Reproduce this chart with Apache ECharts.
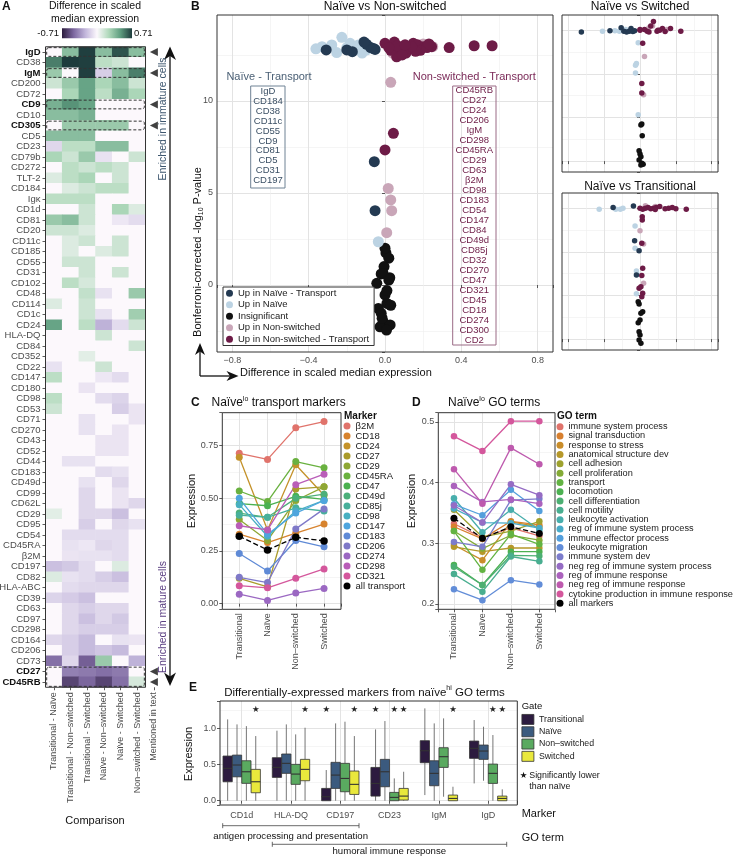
<!DOCTYPE html>
<html><head><meta charset="utf-8">
<script src="https://cdn.jsdelivr.net/npm/echarts@6/dist/echarts.min.js"></script>
<style>html,body{margin:0;padding:0;background:#fff}#c{width:738px;height:858px}</style>
</head><body><div id="c"></div>
<script>
// ---------- Panel A data ----------
const heatCols = ['Transitional - Naïve','Transitional - Non–switched','Transitional - Switched','Naïve - Non–switched','Naïve - Switched','Non–switched - Switched','Mentioned in text'];
const heatRows = ['IgD','CD38','IgM','CD200','CD72','CD9','CD10','CD305','CD5','CD23','CD79b','CD272','TLT-2','CD184','Igκ','CD1d','CD81','CD20','CD11c','CD185','CD55','CD31','CD102','CD48','CD114','CD1c','CD24','HLA-DQ','CD84','CD352','CD22','CD147','CD180','CD98','CD53','CD71','CD270','CD43','CD52','CD44','CD183','CD49d','CD99','CD62L','CD29','CD95','CD54','CD45RA','β2M','CD197','CD82','HLA-ABC','CD39','CD63','CD97','CD298','CD164','CD206','CD73','CD27','CD45RB'];
const heatValues = [
[0,0.35,0.7,0.35,0.65,0.35],[0.55,0.71,0.7,0.2,0.15,0],[0.3,0,0.7,-0.15,0.35,0.55],[0.15,0.3,0.45,0.25,0.35,0.15],
[0,0.25,0.45,0.2,0.4,0.25],[0.4,0.5,0.45,0,0,0],[0.35,0.35,0.4,0,0,0],[0,0.3,0.3,0.3,0.3,0],
[0.35,0.35,0.35,0,0,0],[-0.12,0.2,0.2,0.35,0.35,0],[0.25,0.15,0.3,-0.08,0,0.15],[0,0.2,0.15,0.2,0.15,0],
[0.1,0.2,0.25,0,0.15,0],[0,0.1,0.15,0.2,0.2,0],[0.2,0.2,0.2,0,0,0],[0,0,0.15,0,0.25,0.1],
[0.3,0.35,0.15,0,-0.06,-0.1],[0.15,0.15,0.1,0,0,0],[0,0.1,0.15,0,0.15,0],[0,0.1,0,0.1,0.15,0],
[0,0.15,0.15,0,0,0],[0,0,0.15,0,0.15,0],[0,0.2,0.12,0,0,0],[0,0,0.18,-0.08,0,0.3],
[0.1,0,0.15,0,0,0],[0,0,0.15,-0.08,0,0.28],[0.45,0,0.2,-0.25,-0.1,0.15],[0,0,0,0.15,0,0],
[0,0,0,0,0,0.15],[0,0,0.08,0,0,0],[-0.08,0,0,0.15,0,0],[0.2,0,0,-0.06,-0.1,0],
[0,0,-0.07,0,0,0],[0.2,0,0,-0.1,-0.13,0],[0.15,0,0,0,-0.15,-0.07],[0,0,-0.08,0,0,-0.07],
[0,0,-0.08,0,-0.07,0],[0,0,0,-0.07,-0.07,0],[0,0,0,-0.07,-0.07,0],[0,-0.08,-0.08,0,0,0],
[0,0,0,-0.1,-0.08,0],[0,0,-0.08,0,-0.12,0],[0,0,-0.12,0,-0.07,0],[0,0,-0.12,0,-0.07,-0.12],
[0.08,0,-0.12,-0.12,-0.2,0],[0,0,-0.15,0,-0.12,-0.08],[0,-0.1,-0.1,-0.1,-0.1,0],[0,-0.08,-0.06,-0.12,-0.1,0],
[0,-0.07,-0.08,-0.08,-0.1,0],[-0.2,-0.17,-0.1,0,0.1,0],[0.1,-0.08,-0.1,-0.15,-0.2,0],[0,-0.1,-0.12,-0.12,-0.12,0],
[-0.13,-0.16,-0.2,0,0,0],[0,-0.12,-0.15,-0.12,-0.12,0],[0,-0.12,-0.2,-0.12,-0.17,0],[0,-0.12,-0.15,-0.15,-0.15,0],
[-0.12,-0.15,-0.22,0,-0.08,-0.07],[0,-0.15,-0.22,-0.18,-0.22,0],[-0.45,-0.12,-0.5,0.3,0,-0.25],[0,-0.4,-0.42,-0.45,-0.42,0],
[0,-0.58,-0.48,-0.58,-0.45,0.12]
];
const mentioned = ['IgD','IgM','CD9','CD305','CD27','CD45RB'];
const heatLimit = 0.71;

// ---------- Panel B data ----------
const bNames = ['Up in Naïve - Transport','Up in Naïve','Insignificant','Up in Non-switched','Up in Non-switched - Transport'];
const nsInsig = [[0.005,1.74],[0.02,1.46],[-0.005,1.0],[-0.02,0.6],[0.025,0.4],[-0.01,0.63],[0.02,0.27],[-0.043,0.09],[0.0,-0.54],[0.01,-1.0],[-0.035,-1.27],[0.03,-1.1],[-0.02,-1.54],[-0.01,-2.0],[0.027,-2.17],[-0.026,-2.27],[0.008,-2.45],[0.0,2.0],[0.01,-0.3],[-0.015,-1.8]];
const nsUpNaive = [[-0.362,12.83],[-0.33,12.95],[-0.279,13.04],[-0.253,12.63],[-0.226,13.46],[-0.183,13.13],[-0.14,13.04],[-0.096,12.77],[-0.2,12.9],[-0.12,12.6],[-0.035,2.35]];
const nsNaiveTransport = [[-0.308,12.77],[-0.2,12.77],[-0.171,12.68],[-0.096,13.08],[-0.052,12.8],[-0.075,12.9],[-0.11,13.2],[-0.06,12.85],[-0.056,6.7],[-0.052,4.04]];
const nsUpNS = [[0.03,11.01],[0.017,5.25],[0.03,4.62],[0.035,4.04],[0.009,2.84],[0.08,12.8],[0.13,12.95],[0.2,13.1],[0.25,12.95],[0.04,12.6]];
const nsNSTransport = [[0.0,13.13],[0.049,13.2],[0.061,12.4],[0.096,12.77],[0.148,13.13],[0.2,12.95],[0.244,12.95],[0.336,12.9],[0.467,13.0],[0.561,13.0],[0.044,8.24],[0.0,7.34],[0.03,12.75],[0.075,12.9],[0.11,12.6],[0.125,12.85],[0.17,13.05],[0.185,12.75],[0.22,12.9],[0.16,12.7],[0.065,13.0],[0.14,12.95],[0.09,12.5],[0.02,12.9],[0.105,13.05],[0.23,13.1]];

const swInsig = [[0.01,4.14],[0.02,4.25],[0.025,2.91],[-0.01,1.19],[0.0,0.81],[0.01,0.5],[-0.01,0.13],[0.02,-0.25],[0.035,-0.37],[0.01,-0.45]];
const swUpNaive = [[-0.418,14.9],[-0.28,14.95],[-0.23,14.9],[-0.16,15.1],[-0.13,14.85],[-0.02,13.57],[-0.05,11.0],[-0.04,11.2],[-0.05,10.1],[-0.02,5.3]];
const swNaiveTransport = [[-0.654,14.8],[-0.335,14.95],[-0.21,15.3],[-0.18,14.9],[-0.15,14.8],[-0.12,14.9],[-0.1,15.2],[-0.08,14.85],[-0.06,14.95]];
const swUpNS = [[0.1,15.3],[0.14,15.5],[0.3,15.1],[0.04,7.6],[0.05,12.0]];
const swNSTransport = [[0.0,15.0],[0.05,15.1],[0.08,14.9],[0.12,15.5],[0.15,16.0],[0.19,14.9],[0.2,15.0],[0.25,15.2],[0.28,14.85],[0.34,15.2],[0.455,14.9],[0.03,13.5],[0.02,8.9],[0.02,7.8],[0.0,15.1],[0.1,14.8],[0.22,15.0]];

const trInsig = [[-0.02,4.29],[-0.01,4.02],[0.03,3.14],[0.01,2.95],[0.0,2.19],[-0.02,1.88],[-0.01,0.85],[0.0,0.47],[-0.01,-0.1],[0.01,-0.48]];
const trUpNaive = [[-0.455,14.88],[-0.27,14.9],[-0.22,14.9],[-0.19,15.0],[-0.055,12.97],[-0.055,10.41],[-0.04,7.8],[-0.03,7.4],[-0.04,5.2]];
const trNaiveTransport = [[-0.3,15.1],[-0.073,15.26],[-0.06,11.28],[-0.01,10.14],[-0.04,7.35]];
const trUpNS = [[0.06,15.3],[0.17,15.2],[0.0,12.43],[0.04,10.9],[0.04,6.4]];
const trNSTransport = [[0.0,15.0],[0.03,14.9],[0.06,15.0],[0.09,15.1],[0.12,14.95],[0.15,15.0],[0.18,15.1],[0.22,15.2],[0.17,14.85],[0.28,14.95],[0.32,15.0],[0.36,15.1],[0.4,14.95],[0.516,14.88],[0.025,14.03],[0.025,13.66],[0.02,10.98],[0.03,8.12],[0.02,7.3],[0.01,6.0],[-0.01,5.82],[0.03,5.25],[0.02,4.86]];

const naiveTransportList = ['IgD','CD184','CD38','CD11c','CD55','CD9','CD81','CD5','CD31','CD197'];
const nsTransportList = ['CD45RB','CD27','CD24','CD206','IgM','CD298','CD45RA','CD29','CD63','β2M','CD98','CD183','CD54','CD147','CD84','CD49d','CD85j','CD32','CD270','CD47','CD321','CD45','CD18','CD274','CD300','CD2'];

// ---------- Panel C data ----------
const stages = ['Transitional','Naïve','Non–switched','Switched'];
const transportMarkers = ['β2M','CD18','CD24','CD27','CD29','CD45RA','CD47','CD49d','CD85j','CD98','CD147','CD183','CD206','CD274','CD298','CD321'];
const transportValues = [
[0.714,0.685,0.835,0.865],[0.330,0.290,0.335,0.378],[0.695,0.350,0.660,0.515],[0.120,0.080,0.545,0.555],
[0.400,0.300,0.490,0.555],[0.535,0.485,0.675,0.645],[0.475,0.465,0.510,0.495],[0.430,0.410,0.500,0.520],
[0.420,0.410,0.455,0.440],[0.470,0.320,0.440,0.490],[0.500,0.330,0.430,0.490],[0.238,0.155,0.300,0.270],
[0.125,0.100,0.355,0.450],[0.045,0.015,0.050,0.072],[0.370,0.350,0.565,0.615],[0.085,0.075,0.120,0.165]
];
const allTransport = [0.320,0.255,0.315,0.298];

// ---------- Panel D data ----------
const goTerms = ['immune system process','signal transduction','response to stress','anatomical structure dev','cell adhesion','cell proliferation','transport','locomotion','cell differentiation','cell motility','leukocyte activation','reg of immune system process','immune effector process','leukocyte migration','immune system dev','neg reg of immune system process','reg of immune response','neg reg of immune response','cytokine production in immune response'];
const goValues = [
[0.332,0.309,0.325,0.312],[0.327,0.307,0.336,0.330],[0.297,0.272,0.335,0.327],[0.294,0.286,0.292,0.292],
[0.355,0.310,0.320,0.336],[0.320,0.291,0.313,0.305],[0.320,0.256,0.315,0.298],[0.264,0.231,0.286,0.286],
[0.261,0.231,0.280,0.279],[0.249,0.220,0.278,0.270],[0.374,0.318,0.355,0.322],[0.357,0.334,0.333,0.325],
[0.364,0.346,0.388,0.353],[0.224,0.206,0.239,0.232],[0.302,0.294,0.371,0.373],[0.362,0.334,0.397,0.379],
[0.394,0.368,0.372,0.365],[0.422,0.365,0.457,0.430],[0.476,0.452,0.501,0.501]
];
const allMarkers = [0.341,0.308,0.327,0.316];

// ---------- Panel E data ----------
const eMarkers = ['CD1d','HLA-DQ','CD197','CD23','IgM','IgD'];
const gates = ['Transitional','Naïve','Non–switched','Switched'];
// [min, Q1, median, Q3, max]
const boxTransitional = [[0,0.262,0.447,0.617,1.123],[0,0.322,0.46,0.594,0.967],[0,0,0.055,0.17,0.424],[0,0.064,0.239,0.46,0.985],[0.078,0.525,0.69,0.829,1.275],[0.239,0.585,0.723,0.824,1.114]];
const boxNaive = [[0,0.33,0.493,0.63,1.054],[0,0.378,0.516,0.645,1.054],[0,0.17,0.354,0.53,1.068],[0,0.193,0.40,0.571,1.10],[0,0.207,0.378,0.552,1.068],[0.276,0.571,0.686,0.769,1.022]];
const boxNonSwitched = [[0,0.24,0.40,0.552,1.03],[0,0.226,0.368,0.502,0.916],[0,0.124,0.308,0.516,1.091],[0,0,0.046,0.115,0.308],[0.055,0.46,0.608,0.732,1.137],[0,0.239,0.378,0.506,0.907]];
const boxSwitched = [[0,0.11,0.262,0.433,0.893],[0,0.276,0.433,0.571,1.008],[0,0.087,0.226,0.41,0.893],[0,0.009,0.064,0.17,0.40],[0,0,0.032,0.078,0.193],[0,0,0.032,0.064,0.157]];
const sigTransitional = [0,0,1,1,0,0];
const sigNaive = [0,0,0,0,0,0];
const sigNonSwitched = [0,0,0,1,0,1];
const sigSwitched = [1,1,1,1,1,1];
const starLevel = 1.25;

// ---------- styles / layout ----------
const FONT = '"Liberation Sans", Arial, Helvetica, sans-serif';
const heatColors = ['#2b1b3d','#7d68a0','#c2b6db','#fcf8fc','#b0d9bb','#5f9e80','#1d3b3c'];
const bColors = ['#243a52','#bcd3e3','#111111','#c9a6b8','#6d1b46'];
const cColors = ['#e0736b','#d7832e','#c4922a','#aa9b2b','#8ea734','#69b13f','#4bb150','#4cb07a','#48b09b','#48b0c1','#4ea5de','#5f8ad6','#7f79c8','#9b68c2','#b95db8','#d4579c'];
const dColors = ['#e0736b','#d8802f','#c98d2a','#b6982a','#9ea22e','#84ab36','#62b342','#4cb151','#4caf72','#49ae90','#48aeac','#49abc8','#539fdc','#628dd8','#7c7ccc','#956cc4','#ab62bd','#be5aae','#d4579c'];
const gateColors = ['#2c1b3f','#3b5a7e','#5aaa60','#e9e83c'];
const G = [
  {l:45.5, t:46.75, w:116.7, h:640.5},
  {l:217, t:15, w:336, h:337},
  {l:562, t:15, w:156, h:157},
  {l:562, t:193, w:156, h:157},
  {l:222.3, t:412.7, w:118.7, h:196.6},
  {l:438.3, t:412.7, w:116.7, h:196.6},
  {l:220, t:701, w:297.3, h:104}
];
const MAJOR = {color:'#e3e3e3', width:1};
const MINOR = {color:'#efefef', width:0.6};
function isMult(v, s){ return Math.abs(v/s - Math.round(v/s)) < 1e-6; }
function vAxis(gi, min, max, step, fmt, o) {
  o = o || {};
  return {
    type:'value', gridIndex:gi, min, max, minInterval:step, maxInterval:step,
    axisLine:{show:false},
    axisTick:{show:true, length:3, lineStyle:{color:'#333', width:0.8}},
    axisLabel:{show:!!fmt, fontSize:o.fs||9, color:'#4d4d4d', margin:o.margin||4, rotate:o.rotate||0, fontFamily:FONT,
      formatter: v => (fmt && isMult(v, step)) ? fmt(v) : ''},
    splitLine:{show:true, lineStyle:MAJOR, showMinLine:false, showMaxLine:false},
    minorTick:{show:false, splitNumber:2},
    minorSplitLine:{show:o.minor !== false, lineStyle:MINOR}
  };
}
const signed1 = v => (v < -1e-9 ? '−' : '') + Math.abs(v).toFixed(1);

// ---------- series ----------
const series = [];
const heatData = [];
heatValues.forEach((row, r) => row.forEach((v, c) => heatData.push([c, r, v])));
series.push({type:'heatmap', xAxisIndex:0, yAxisIndex:0, data:heatData, emphasis:{disabled:true}, silent:true});
series.push({type:'scatter', xAxisIndex:0, yAxisIndex:0, data:mentioned.map(m => [heatCols[6], m]),
  symbol:'triangle', symbolRotate:90, symbolSize:[8,8], itemStyle:{color:'#111'}, silent:true});

function bSeries(gi, sets, size) {
  const order = [2,1,3,0,4];
  order.forEach(k => series.push({type:'scatter', name:bNames[k], xAxisIndex:gi, yAxisIndex:gi, data:sets[k],
    symbolSize:size, itemStyle:{color:bColors[k], opacity:1}, silent:true, z:3}));
}
bSeries(1, [nsNaiveTransport, nsUpNaive, nsInsig, nsUpNS, nsNSTransport], 11);
bSeries(2, [swNaiveTransport, swUpNaive, swInsig, swUpNS, swNSTransport], 5.5);
bSeries(3, [trNaiveTransport, trUpNaive, trInsig, trUpNS, trNSTransport], 5.5);

function lineSeries(gi, name, vals, color, size, dashed) {
  series.push({type:'line', name, xAxisIndex:gi, yAxisIndex:gi, data:vals.map((v,i) => [i+1, v]),
    symbol:'circle', symbolSize:size, showSymbol:true, silent:true, z: dashed ? 5 : 3,
    lineStyle:{width:1.3, color:dashed ? '#000' : color, type:dashed ? 'dashed' : 'solid'},
    itemStyle:{color:dashed ? '#000' : color}});
}
transportMarkers.forEach((m,i) => lineSeries(4, m, transportValues[i], cColors[i], 7, false));
lineSeries(4, 'all transport', allTransport, '#000', 7.5, true);
goTerms.forEach((g,i) => lineSeries(5, g, goValues[i], dColors[i], 6.5, false));
lineSeries(5, 'all markers', allMarkers, '#000', 7, true);

const boxStep = 0.19, boxHalf = 0.094;
function boxSeries(k, boxes, sig) {
  series.push({type:'custom', name:gates[k], xAxisIndex:6, yAxisIndex:6, silent:true, z:3,
    itemStyle:{color:gateColors[k]},
    data: boxes.map((b,i) => [i+1, b[0], b[1], b[2], b[3], b[4], sig[i]]),
    renderItem: function(params, api) {
      const xc = api.value(0) + (k - 1.5) * boxStep;
      const pMin = api.coord([xc, api.value(1)]), pQ1 = api.coord([xc, api.value(2)]),
            pMed = api.coord([xc, api.value(3)]), pQ3 = api.coord([xc, api.value(4)]),
            pMax = api.coord([xc, api.value(5)]);
      const left = api.coord([xc - boxHalf, 0])[0], right = api.coord([xc + boxHalf, 0])[0];
      const ch = [
        {type:'line', shape:{x1:pMax[0], y1:pMax[1], x2:pQ3[0], y2:pQ3[1]}, style:{stroke:'#666', lineWidth:0.9}},
        {type:'line', shape:{x1:pQ1[0], y1:pQ1[1], x2:pMin[0], y2:pMin[1]}, style:{stroke:'#666', lineWidth:0.9}},
        {type:'rect', shape:{x:left, y:pQ3[1], width:right-left, height:Math.max(pQ1[1]-pQ3[1], 0.8)}, style:{fill:gateColors[k], stroke:'#333', lineWidth:0.8}},
        {type:'line', shape:{x1:left, y1:pMed[1], x2:right, y2:pMed[1]}, style:{stroke:'#333', lineWidth:1.1}}
      ];
      if (api.value(6)) {
        const ps = api.coord([xc, starLevel]);
        ch.push({type:'text', style:{text:'★', x:ps[0], y:ps[1], textAlign:'center', textVerticalAlign:'middle', fontSize:8.5, fill:'#222', fontFamily:'DejaVu Sans'}});
      }
      return {type:'group', children:ch};
    }});
}
boxSeries(0, boxTransitional, sigTransitional);
boxSeries(1, boxNaive, sigNaive);
boxSeries(2, boxNonSwitched, sigNonSwitched);
boxSeries(3, boxSwitched, sigSwitched);

// ---------- graphics ----------
const gr = [];
function T(x, y, text, st, rot) {
  gr.push({type:'text', x, y, rotation:rot || 0, z:100, silent:true,
    style:Object.assign({text, fontSize:11, fill:'#111', textAlign:'left', textVerticalAlign:'middle', fontFamily:FONT}, st || {})});
}
function Ln(x1,y1,x2,y2,st){ gr.push({type:'line', z:100, silent:true, shape:{x1,y1,x2,y2}, style:Object.assign({stroke:'#111', lineWidth:1}, st||{})}); }
function Poly(pts, fill){ gr.push({type:'polygon', z:100, silent:true, shape:{points:pts}, style:{fill:fill||'#111'}}); }
function Rc(x,y,w,h,st){ gr.push({type:'rect', z:100, silent:true, shape:{x,y,width:w,height:h,r:st && st.r || 0}, style:Object.assign({fill:'none', stroke:'#333', lineWidth:1}, st||{})}); }
const bold = {fontWeight:'bold', fontSize:12};

// Panel A
T(2, 7, 'A', bold);
T(95, 6.5, 'Difference in scaled', {textAlign:'center', fontSize:10.5});
T(95, 19.5, 'median expression', {textAlign:'center', fontSize:10.5});
gr.push({type:'rect', z:100, silent:true, shape:{x:62, y:28.3, width:70, height:10},
  style:{fill:{type:'linear', x:0, y:0, x2:1, y2:0, colorStops:heatColors.map((c,i) => ({offset:i/(heatColors.length-1), color:c}))}}});
T(59, 33.5, '-' + heatLimit.toFixed(2), {textAlign:'right', fontSize:9.5});
T(134, 33.5, heatLimit.toFixed(2), {fontSize:9.5});
const rowH = G[0].h / heatRows.length, colW = G[0].w / heatCols.length;
Rc(G[0].l, G[0].t, colW*6, G[0].h, {stroke:'#333', lineWidth:1});
[[0,1],[2,1],[5,1],[7,1],[59,2]].forEach(([r,n]) =>
  Rc(G[0].l+1.2, G[0].t + r*rowH + 0.9, colW*6 - 2.4, n*rowH - 1.8, {stroke:'#333', lineWidth:1, lineDash:[3,2], r:2}));
Ln(170, 55, 170, 677, {lineWidth:1.3});
Poly([[170,46.5],[164,60],[170,56],[176,60]]);
Poly([[170,686],[164,672.5],[170,676.5],[176,672.5]]);
T(163, 119, 'Enriched in immature cells', {textAlign:'center', fontSize:10.5, fill:'#3d566e'}, Math.PI/2);
T(163, 617, 'Enriched in mature cells', {textAlign:'center', fontSize:10.5, fill:'#5b3f82'}, Math.PI/2);
T(95, 821, 'Comparison', {textAlign:'center', fontSize:11});

// Panel B
T(191, 7, 'B', bold);
T(385, 6.5, 'Naïve vs Non-switched', {textAlign:'center', fontSize:12});
T(640, 6.5, 'Naïve vs Switched', {textAlign:'center', fontSize:12});
T(640, 186.5, 'Naïve vs Transitional', {textAlign:'center', fontSize:12});
T(269, 77, 'Naïve - Transport', {textAlign:'center', fontSize:11, fill:'#4b6075'});
Rc(250.7, 86, 34.3, 102, {stroke:'#6f8294', lineWidth:1});
T(268, 86.7, naiveTransportList.join('\n'), {textAlign:'center', textVerticalAlign:'top', fontSize:9.5, lineHeight:9.85, fill:'#3a4f64'});
T(474.3, 77, 'Non-switched - Transport', {textAlign:'center', fontSize:11, fill:'#7b2a58'});
Rc(452.7, 86, 43.3, 259, {stroke:'#9a6b85', lineWidth:1});
T(474.3, 85.8, nsTransportList.join('\n'), {textAlign:'center', textVerticalAlign:'top', fontSize:9.5, lineHeight:9.97, fill:'#6d1b46'});
gr.push({type:'text', x:198, y:252, rotation:Math.PI/2, z:100, silent:true, style:{
  text:'{a|Bonferroni-corrected -log}{s|10}{a| P-value}', textAlign:'center', textVerticalAlign:'middle', fill:'#111',
  rich:{a:{fontSize:11, lineHeight:14, fontFamily:FONT, fill:'#111'}, s:{fontSize:7, verticalAlign:'bottom', fontFamily:FONT, fill:'#111'}}}});
Ln(200, 376, 200, 351, {lineWidth:1.3});
Poly([[200,343],[195,355],[200,351.5],[205,355]]);
Ln(200, 376, 230, 376, {lineWidth:1.3});
Poly([[238.5,376],[226.5,371],[230,376],[226.5,381]]);
T(240, 373, 'Difference in scaled median expression', {fontSize:11});

// Panel C
T(191, 403, 'C', bold);
gr.push({type:'text', x:211.5, y:403, z:100, silent:true, style:{text:'{t|Naïve}{s|lo}{t| transport markers}', textAlign:'left', textVerticalAlign:'middle',
  rich:{t:{fontSize:12, lineHeight:15, fontFamily:FONT, fill:'#111'}, s:{fontSize:7, verticalAlign:'top', fontFamily:FONT, fill:'#111'}}}});
T(344, 416.5, 'Marker', {fontWeight:'bold', fontSize:10});
T(192.3, 501, 'Expression', {textAlign:'center', fontSize:11}, Math.PI/2);

// Panel D
T(412, 403, 'D', bold);
gr.push({type:'text', x:448, y:403, z:100, silent:true, style:{text:'{t|Naïve}{s|lo}{t| GO terms}', textAlign:'left', textVerticalAlign:'middle',
  rich:{t:{fontSize:12, lineHeight:15, fontFamily:FONT, fill:'#111'}, s:{fontSize:7, verticalAlign:'top', fontFamily:FONT, fill:'#111'}}}});
T(557, 416.5, 'GO term', {fontWeight:'bold', fontSize:10});
T(411.7, 501, 'Expression', {textAlign:'center', fontSize:11}, Math.PI/2);

// Panel E
T(189, 688, 'E', bold);
gr.push({type:'text', x:364.5, y:692.5, z:100, silent:true, style:{text:'{t|Differentially-expressed markers from naïve}{s|hi}{t| GO terms}', textAlign:'center', textVerticalAlign:'middle',
  rich:{t:{fontSize:11.5, lineHeight:15, fontFamily:FONT, fill:'#111'}, s:{fontSize:7, verticalAlign:'top', fontFamily:FONT, fill:'#111'}}}});
T(189.3, 754, 'Expression', {textAlign:'center', fontSize:11}, Math.PI/2);
T(521.7, 706, 'Gate', {fontSize:9.5});
T(523.5, 776, '★', {textAlign:'center', fontSize:8.5, fontFamily:'DejaVu Sans'});
T(529.3, 776, 'Significantly lower', {fontSize:8.8});
T(529.3, 787, 'than naïve', {fontSize:8.8});
T(521.7, 814, 'Marker', {fontSize:11});
T(521.7, 837.5, 'GO term', {fontSize:11});
function bracket(x1, x2, y) { Ln(x1, y, x2, y, {stroke:'#444', lineWidth:0.8}); Ln(x1, y-2.5, x1, y+2.5, {stroke:'#444', lineWidth:0.8}); Ln(x2, y-2.5, x2, y+2.5, {stroke:'#444', lineWidth:0.8}); }
bracket(222.7, 359, 825.7);
T(290.7, 836.7, 'antigen processing and presentation', {textAlign:'center', fontSize:9.6});
bracket(272.3, 506.7, 844.3);
T(389.3, 851.7, 'humoral immune response', {textAlign:'center', fontSize:9.6});

// grid borders
for (let i = 1; i < G.length; i++) Rc(G[i].l, G[i].t, G[i].w, G[i].h, {stroke:'#333', lineWidth:1});

// ---------- axes ----------
const xAxis = [
  {type:'category', gridIndex:0, data:heatCols, position:'bottom', axisLine:{show:false},
   axisTick:{show:true, alignWithLabel:true, length:3, lineStyle:{color:'#333', width:0.8}},
   axisLabel:{rotate:90, fontSize:9, color:'#4d4d4d', margin:5, interval:0, fontFamily:FONT}, splitLine:{show:false}},
  vAxis(1, -0.88, 0.88, 0.4, signed1),
  vAxis(2, -0.87, 0.87, 0.4, null),
  vAxis(3, -0.87, 0.87, 0.4, null),
  vAxis(4, 0.4, 4.6, 1, v => stages[Math.round(v)-1], {minor:false, rotate:90}),
  vAxis(5, 0.45, 4.55, 1, v => stages[Math.round(v)-1], {minor:false, rotate:90}),
  vAxis(6, 0.56, 6.59, 1, v => eMarkers[Math.round(v)-1], {minor:false, margin:6})
];
const yAxis = [
  {type:'category', gridIndex:0, data:heatRows, inverse:true, axisLine:{show:false},
   axisTick:{show:true, alignWithLabel:true, length:3, lineStyle:{color:'#333', width:0.8}},
   axisLabel:{fontSize:9.5, color:'#4d4d4d', margin:5, interval:0, fontFamily:FONT,
     formatter: v => mentioned.indexOf(v) >= 0 ? '{b|' + v + '}' : v,
     rich:{b:{fontWeight:'bold', fontSize:9.5, color:'#111', fontFamily:FONT}}}, splitLine:{show:false}},
  vAxis(1, -3.64, 14.67, 5, v => String(Math.round(v))),
  vAxis(2, -1.25, 16.75, 5, null),
  vAxis(3, -1.25, 16.75, 5, null),
  vAxis(4, -0.027, 0.907, 0.25, v => v.toFixed(2)),
  vAxis(5, 0.191, 0.515, 0.1, v => v.toFixed(1)),
  vAxis(6, -0.059, 1.377, 0.5, v => v.toFixed(1))
];

const legendText = (fs, lh) => ({fontSize:fs, lineHeight:lh, color:'#222', fontFamily:FONT, padding:0});
const option = {
  animation:false,
  backgroundColor:'#fff',
  textStyle:{fontFamily:FONT},
  grid: G.map((g,i) => ({left:g.l, top:g.t, width:g.w, height:g.h, show:i>0, backgroundColor:'#fff', borderWidth:0, outerBoundsMode:'none', containLabel:false})),
  xAxis, yAxis,
  visualMap:{type:'continuous', show:false, min:-heatLimit, max:heatLimit, seriesIndex:0, inRange:{color:heatColors}},
  legend:[
    {left:223, top:287, orient:'vertical', padding:[0.5,5,0.5,3], borderColor:'#333', borderWidth:1, backgroundColor:'#fff',
     itemWidth:7, itemHeight:7, itemGap:0, icon:'circle', selectedMode:false, textStyle:legendText(9.5, 11.5), data:bNames, z:10},
    {left:343.5, top:421, orient:'vertical', padding:0, itemWidth:7, itemHeight:7, itemGap:0, icon:'circle', selectedMode:false,
     textStyle:legendText(9.5, 9.47), data:transportMarkers.concat(['all transport'])},
    {left:556.5, top:422, orient:'vertical', padding:0, itemWidth:7, itemHeight:7, itemGap:0, icon:'circle', selectedMode:false,
     textStyle:legendText(9.2, 9.3), data:goTerms.concat(['all markers'])},
    {left:521.5, top:713.3, orient:'vertical', padding:0, itemWidth:12, itemHeight:10, itemGap:0, icon:'rect', selectedMode:false,
     textStyle:legendText(8.8, 12.3), data:gates.map((g,i) => ({name:g, itemStyle:{color:gateColors[i], borderColor:'#333', borderWidth:0.8}}))}
  ],
  series,
  graphic:{elements:gr}
};
const chart = echarts.init(document.getElementById('c'), null, {renderer:'canvas', width:738, height:858});
chart.setOption(option);
</script></body></html>
